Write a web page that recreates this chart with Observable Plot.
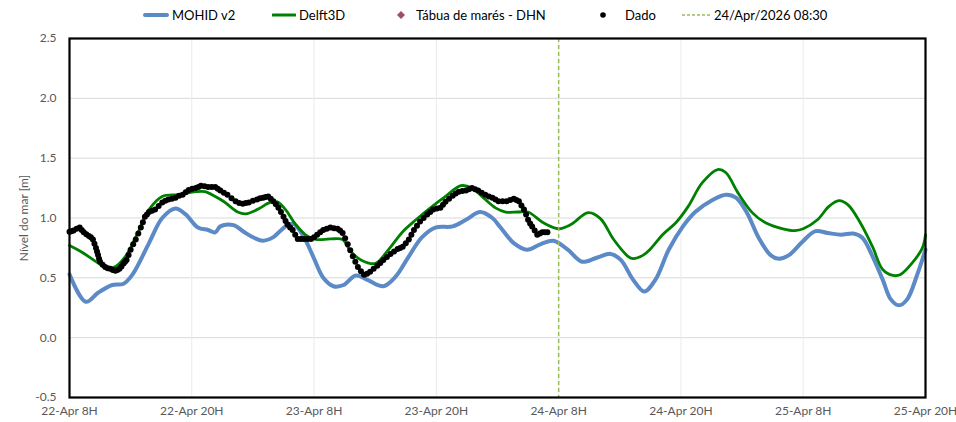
<!DOCTYPE html>
<html>
<head>
<meta charset="utf-8">
<script src="https://cdn.jsdelivr.net/npm/d3@7"></script>
<script src="https://cdn.jsdelivr.net/npm/@observablehq/plot@0.6"></script>
<style>
  html, body { margin: 0; padding: 0; background: #fff; }
  body { width: 956px; height: 422px; overflow: hidden; font-family: Lato, "Noto Sans", sans-serif; }
  #legend { position: relative; height: 30px; font-size: 13px; color: #000; }
  .item { position: absolute; top: 0; height: 30px; display: flex; align-items: center; white-space: nowrap; }
  .item svg { margin-right: 3px; }
</style>
</head>
<body>
<div id="legend"></div>
<div id="chart"></div>
<script>
// ---- data (hours since 22-Apr-2026 08:30) ----
const mohidHours = [0,1.6,2.8,4.2,5.3,6.2,7.8,9.1,10.4,11.4,12.6,13.6,14.3,14.8,16.1,17.1,18.1,19.0,20.0,21.2,22.0,23.0,23.9,24.9,25.9,26.9,28.1,29.3,30.8,32.0,33.3,34.6,35.9,37.6,38.9,40.3,41.5,42.3,43.6,44.9,46.2,47.5,48.9,50.3,51.8,53.1,54.1,55.3,56.4,57.5,58.8,60.2,61.4,63.1,64.4,65.4,66.5,67.6,68.8,69.6,70.6,71.9,73.2,74.4,75.7,76.9,77.8,78.8,79.8,80.6,81.4,82.2,83.2,84];
const mohidValues = [0.53,0.30,0.375,0.44,0.45,0.53,0.79,1.0,1.08,1.03,0.92,0.90,0.88,0.93,0.94,0.885,0.835,0.81,0.84,0.93,0.95,0.84,0.68,0.50,0.43,0.44,0.52,0.48,0.43,0.51,0.68,0.84,0.92,0.93,0.985,1.05,1.0,0.92,0.79,0.735,0.78,0.81,0.735,0.635,0.67,0.70,0.65,0.485,0.385,0.485,0.735,0.93,1.05,1.15,1.195,1.17,1.04,0.84,0.69,0.66,0.69,0.80,0.89,0.875,0.86,0.87,0.835,0.68,0.485,0.32,0.27,0.32,0.53,0.735];

const delftHours = [0,1.3,2.6,3.5,4.3,5.5,6.7,7.8,9.1,10.7,12.4,13.3,14.3,15.1,16.5,17.3,18.4,19.7,20.4,21.2,22.2,23.4,24.3,25.6,26.8,27.6,28.6,30.0,31.3,32.7,34.0,35.2,36.9,38.4,39.5,40.6,41.8,42.8,44.0,45.0,46.5,48.0,49.2,50.9,52.1,53.4,54.8,55.3,56.3,57.0,58.2,59.5,60.7,62.1,63.6,64.4,65.6,67.0,68.3,70.0,71.2,72.0,73.4,74.5,75.5,76.4,77.6,78.8,79.8,80.8,81.5,82.7,83.7,84];
const delftValues = [0.77,0.71,0.635,0.59,0.585,0.68,0.875,1.07,1.18,1.195,1.22,1.22,1.18,1.14,1.05,1.035,1.07,1.13,1.135,1.07,0.945,0.845,0.82,0.825,0.82,0.72,0.65,0.62,0.735,0.885,0.985,1.07,1.18,1.27,1.25,1.17,1.085,1.05,1.05,1.05,0.96,0.91,0.945,1.045,0.995,0.82,0.68,0.66,0.69,0.74,0.86,0.96,1.095,1.295,1.405,1.38,1.21,1.045,0.96,0.91,0.895,0.91,0.985,1.095,1.145,1.11,0.96,0.76,0.57,0.52,0.525,0.625,0.75,0.86];

const dadoHours = [0,0.2,0.4,0.7,1.0,1.2,1.4,1.65,1.9,2.1,2.3,2.45,2.6,2.7,2.8,2.9,3.0,3.25,3.5,3.75,4.0,4.25,4.5,4.7,4.9,5.1,5.3,5.45,5.6,5.8,6.0,6.25,6.5,6.75,7.0,7.2,7.4,7.6,7.8,8.1,8.4,8.75,9.1,9.4,9.7,10.05,10.4,10.75,11.1,11.4,11.7,12.05,12.4,12.65,12.9,13.25,13.6,13.95,14.3,14.55,14.8,15.15,15.5,15.9,16.3,16.65,17.0,17.3,17.6,18.0,18.4,18.7,19.0,19.25,19.5,19.75,20.0,20.25,20.5,20.75,21.0,21.2,21.4,21.65,21.9,22.15,22.4,22.7,23.0,23.35,23.7,24.0,24.3,24.6,24.9,25.25,25.6,25.95,26.3,26.55,26.8,27.05,27.3,27.55,27.8,28.05,28.3,28.6,28.9,29.2,29.5,29.85,30.2,30.5,30.8,31.15,31.5,31.85,32.2,32.45,32.7,33.0,33.3,33.55,33.8,34.1,34.4,34.75,35.1,35.4,35.7,36.05,36.4,36.65,36.9,37.25,37.6,37.9,38.2,38.55,38.9,39.2,39.5,39.8,40.1,40.45,40.8,41.15,41.5,41.8,42.1,42.5,42.9,43.25,43.6,43.85,44.1,44.35,44.6,44.8,45.0,45.2,45.4,45.65,45.9,46.15,46.4,46.65,46.9];
const dadoValues = [0.885,0.89,0.895,0.91,0.92,0.90,0.88,0.865,0.85,0.84,0.82,0.785,0.75,0.72,0.69,0.66,0.635,0.61,0.59,0.58,0.575,0.565,0.56,0.565,0.575,0.595,0.62,0.635,0.65,0.69,0.735,0.78,0.82,0.87,0.92,0.965,1.01,1.03,1.05,1.06,1.07,1.10,1.13,1.145,1.155,1.16,1.17,1.185,1.195,1.215,1.235,1.245,1.25,1.26,1.27,1.265,1.26,1.26,1.26,1.245,1.23,1.21,1.195,1.165,1.14,1.125,1.12,1.125,1.13,1.145,1.155,1.165,1.17,1.175,1.18,1.16,1.14,1.115,1.085,1.05,1.01,0.975,0.945,0.92,0.90,0.86,0.825,0.825,0.825,0.825,0.825,0.84,0.86,0.88,0.90,0.91,0.92,0.915,0.91,0.895,0.875,0.83,0.78,0.73,0.68,0.635,0.59,0.555,0.525,0.535,0.55,0.575,0.60,0.625,0.65,0.675,0.70,0.72,0.74,0.75,0.76,0.79,0.82,0.86,0.90,0.935,0.97,1.0,1.03,1.05,1.07,1.08,1.085,1.11,1.135,1.16,1.185,1.205,1.22,1.225,1.23,1.24,1.25,1.24,1.23,1.21,1.195,1.18,1.17,1.155,1.14,1.14,1.14,1.15,1.16,1.15,1.14,1.105,1.07,1.03,0.985,0.955,0.93,0.895,0.86,0.87,0.88,0.88,0.88];

const tickHours = [0,12,24,36,48,60,72,84];
const yTicks = [-0.5,0,0.5,1.0,1.5,2.0,2.5];
const nowHour = 48; // 24/Apr/2026 08:30
const seriesNames = ["MOHID v2","Delft3D","Tábua de marés - DHN","Dado","24/Apr/2026 08:30"];

// ---- helpers ----
const t0 = Date.UTC(2026, 3, 22, 8, 30);
const toDate = h => new Date(t0 + h * 3600e3);
const months = ["Jan","Feb","Mar","Apr","May","Jun","Jul","Aug","Sep","Oct","Nov","Dec"];
const fmtTick = d => `${d.getUTCDate()}-${months[d.getUTCMonth()]} ${d.getUTCHours()}H`;

const mohid = mohidHours.map((h, i) => ({t: toDate(h), v: mohidValues[i]}));
const delft = delftHours.map((h, i) => ({t: toDate(h), v: delftValues[i]}));
const dado = dadoHours.map((h, i) => ({t: toDate(h), v: dadoValues[i]}));
const xTicks = tickHours.map(toDate);

// ---- legend ----
const legendItems = [
  {left: 143, sw: '<svg width="26" height="8"><line x1="2" y1="4" x2="24" y2="4" stroke="#5b8ac6" stroke-width="4" stroke-linecap="round"/></svg>'},
  {left: 272, sw: '<svg width="24" height="8"><line x1="1" y1="4" x2="23" y2="4" stroke="#008000" stroke-width="3" stroke-linecap="round"/></svg>'},
  {left: 394, sw: '<svg width="18" height="12" style="margin-right:4px"><path d="M7 2 L11 6 L7 10 L3 6 Z" fill="#9e4f62"/></svg>'},
  {left: 597, sw: '<svg width="24" height="10" style="margin-right:4px"><circle cx="6" cy="5" r="2.8" fill="#000"/></svg>'},
  {left: 681, sw: '<svg width="30" height="6"><line x1="1" y1="3" x2="29" y2="3" stroke="#9bbb59" stroke-width="1.5" stroke-dasharray="3,2"/></svg>'}
];
document.getElementById("legend").innerHTML = legendItems.map((it, i) =>
  `<div class="item" style="left:${it.left}px">${it.sw}<span>${seriesNames[i]}</span></div>`).join("");

// ---- chart ----
const chart = Plot.plot({
  width: 956,
  height: 392,
  marginTop: 8,
  marginBottom: 25,
  marginLeft: 69,
  marginRight: 31,
  style: {fontFamily: "Lato, 'Noto Sans', sans-serif", fontSize: "12px", color: "#595959", background: "#fff", overflow: "visible"},
  x: {type: "utc", domain: [toDate(0), toDate(84)], ticks: xTicks, tickFormat: fmtTick, tickSize: 0, tickPadding: 9, label: null},
  y: {domain: [-0.5, 2.5], ticks: yTicks, tickFormat: d => d.toFixed(1), tickSize: 0, tickPadding: 13,
      label: "Nível do mar [m]", labelAnchor: "center", labelArrow: "none", labelOffset: 50},
  marks: [
    Plot.gridY(yTicks, {stroke: "#d9d9d9", strokeOpacity: 1, strokeWidth: 1}),
    Plot.gridX(xTicks, {stroke: "#ebebeb", strokeOpacity: 1, strokeWidth: 1}),
    Plot.line(mohid, {x: "t", y: "v", stroke: "#5b8ac6", strokeWidth: 4, curve: "catmull-rom"}),
    Plot.line(delft, {x: "t", y: "v", stroke: "#008000", strokeWidth: 2.8, curve: "catmull-rom"}),
    Plot.dot(dado, {x: "t", y: "v", r: 3, fill: "#000", stroke: "none"}),
    Plot.ruleX([toDate(nowHour)], {stroke: "#9bbb59", strokeWidth: 1.5, strokeDasharray: "4,3"}),
    Plot.frame({stroke: "#000", strokeWidth: 2.2})
  ]
});
document.getElementById("chart").appendChild(chart);
</script>
</body>
</html>
